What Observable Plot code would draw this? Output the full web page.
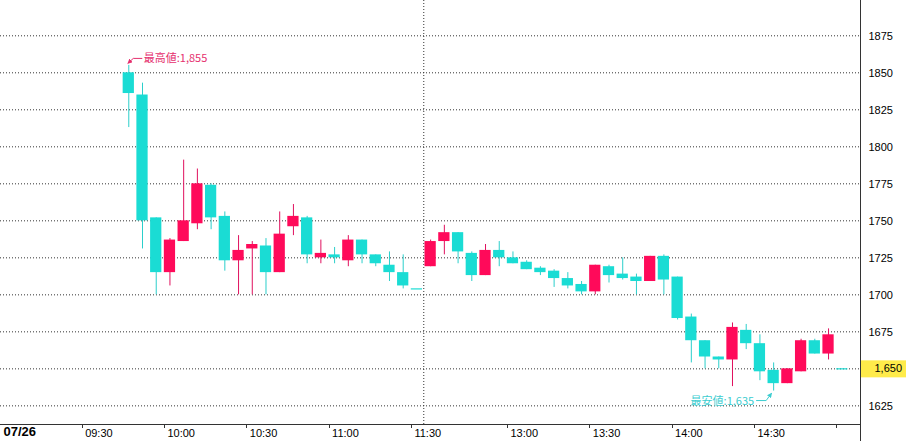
<!DOCTYPE html>
<html><head><meta charset="utf-8">
<script src="https://cdn.jsdelivr.net/npm/d3@7"></script>
<script src="https://cdn.jsdelivr.net/npm/@observablehq/plot@0.6"></script>
<style>
html,body{margin:0;padding:0;background:#fff;}
#chart{width:906px;height:441px;overflow:hidden;}
</style></head><body><div id="chart"></div>
<script>
// 5-minute slots counted from 09:00 (slot 0); 30 = 11:30 close, 31 = 12:30, 61 = 15:00 close
const slots = [9,10,11,12,13,14,15,16,17,18,19,20,21,22,23,24,25,26,27,28,29,30,
  31,32,33,34,35,36,37,38,39,40,41,42,43,44,45,46,47,48,49,50,51,52,53,54,55,56,57,58,59,60,61];
const open  = [1850,1835,1752,1715,1736,1748,1774,1753,1723,1731,1733,1715,1746,1752,1725,1727,1723,1737,1727,1720,1715,1704,
  1719,1736,1742,1728,1713,1730,1725,1722,1718,1716,1711,1707,1702,1719,1714,1712,1709,1726,1712,1685,1669,1658,1656,1676,1667,1649,1640,1648,1669,1660,1650];
const high  = [1855,1843,1752,1738,1791,1785,1775,1756,1740,1736,1738,1756,1761,1753,1737,1732,1740,1737,1727,1729,1727,1704,
  1737,1747,1742,1729,1734,1736,1729,1723,1719,1717,1715,1709,1720,1720,1725,1714,1726,1727,1712,1687,1669,1658,1681,1680,1673,1654,1650,1670,1670,1677,1650];
const low   = [1813,1731,1700,1706,1736,1744,1744,1716,1700,1700,1700,1715,1740,1721,1721,1721,1719,1721,1719,1709,1704,1704,
  1719,1727,1721,1709,1713,1719,1721,1717,1713,1705,1704,1700,1700,1708,1710,1700,1709,1700,1683,1654,1650,1650,1638,1663,1642,1635,1640,1648,1660,1656,1650];
const close = [1836,1750,1715,1737,1750,1775,1752,1723,1730,1734,1715,1741,1753,1727,1728,1725,1737,1727,1721,1715,1706,1704,
  1736,1742,1729,1713,1730,1725,1721,1717,1715,1711,1706,1702,1720,1713,1711,1709,1726,1710,1684,1669,1658,1656,1678,1667,1648,1640,1650,1669,1660,1673,1650];

const gridLevels = [1625,1650,1675,1700,1725,1750,1775,1800,1825,1850,1875];
const yTickLabels = [1625,1675,1700,1725,1750,1775,1800,1825,1850,1875];
const xTickSlots  = [6,12,18,24,30,37,43,49,55,61];
const xTickLabels = ["09:30","10:00","10:30","11:00","11:30","13:00","13:30","14:00","14:30",""];
const dateLabel = "07/26";
const sessionBreak = 30.5;
const lastPrice = 1650;

const UP = "#FF0A5A", DOWN = "#1ADCD4";
const UP_WICK = "#E0105E", DOWN_WICK = "#2BCFCB";
const HI_COLOR = "#E5306E", LO_COLOR = "#3CCDD0";

const candles = slots.map((k, i) => ({k, open: open[i], high: high[i], low: low[i], close: close[i]}));
const ups = candles.filter(d => d.close > d.open);
const downs = candles.filter(d => d.close <= d.open);
const dojis = candles.filter(d => d.close === d.open);
const hi = candles.reduce((a, b) => b.high > a.high ? b : a);
const lo = candles.reduce((a, b) => b.low < a.low ? b : a);
const fmt = d3.format(",");
const xTicks = xTickSlots.map((s, i) => ({s, label: xTickLabels[i]}));
const HW = 0.41, TICK_OFF = 0.4;

const num = "'Liberation Sans', Arial, sans-serif";
const jp = "'Noto Sans CJK JP', sans-serif";

const chart = Plot.plot({
  width: 906, height: 441,
  marginLeft: 0, marginRight: 46, marginTop: 0, marginBottom: 17,
  x: {type: "linear", domain: [-0.35, 62.33], axis: null},
  y: {type: "linear", domain: [1612.4, 1898.85], axis: null},
  style: {fontFamily: num, fontSize: "11px", background: "#fff", color: "#000"},
  marks: [
    Plot.ruleY(gridLevels, {stroke: "#333", strokeDasharray: "1,2", strokeWidth: 1}),
    Plot.ruleX([sessionBreak], {stroke: "#333", strokeDasharray: "1,2", strokeWidth: 1}),
    Plot.ruleX(ups, {x: "k", y1: "low", y2: "high", stroke: UP_WICK, strokeWidth: 1}),
    Plot.ruleX(downs, {x: "k", y1: "low", y2: "high", stroke: DOWN_WICK, strokeWidth: 1}),
    Plot.rect(ups, {x1: d => d.k - HW, x2: d => d.k + HW, y1: "open", y2: "close", fill: UP}),
    Plot.rect(downs, {x1: d => d.k - HW, x2: d => d.k + HW, y1: "open", y2: "close", fill: DOWN}),
    Plot.ruleY(dojis, {y: "close", x1: d => d.k - HW, x2: d => d.k + HW, stroke: DOWN, strokeWidth: 1.2}),
    Plot.text(yTickLabels, {y: d => d, text: d => String(d), frameAnchor: "right", dx: 8, dy: 1, textAnchor: "start", fill: "#000"}),
    Plot.text(xTicks, {x: d => d.s - TICK_OFF, text: "label", frameAnchor: "bottom", dy: 12, dx: 3, textAnchor: "start", fill: "#000"}),
    Plot.text([dateLabel], {text: d => d, frameAnchor: "bottom-left", dy: 11.5, dx: 3, textAnchor: "start", fontWeight: "bold", fontSize: 13, fill: "#000"}),
    Plot.text([hi], {x: "k", y: "high", text: d => "最高値:" + fmt(d.high), dx: 15, dy: -6.5, textAnchor: "start", fill: HI_COLOR, fontFamily: jp, fontSize: 11}),
    Plot.text([lo], {x: "k", y: "low", text: d => "最安値:" + fmt(d.low), dx: -19.5, dy: 10.5, textAnchor: "end", fill: LO_COLOR, fontFamily: jp, fontSize: 11})
  ]
});
document.getElementById("chart").appendChild(chart);

// decorations positioned through Plot's own scales
const svg = d3.select(chart);
const X = chart.scale("x"), Y = chart.scale("y");
const right = 906 - 46, bottom = 441 - 17;
const defs = svg.append("defs");
function marker(id, color) {
  defs.append("marker").attr("id", id).attr("viewBox", "0 0 10 10").attr("refX", 9).attr("refY", 5)
    .attr("markerWidth", 5).attr("markerHeight", 5).attr("orient", "auto")
    .append("path").attr("d", "M0,0L10,5L0,10z").attr("fill", color);
}
marker("mhi", HI_COLOR); marker("mlo", LO_COLOR);

svg.append("line").attr("x1", 0).attr("x2", right).attr("y1", bottom + 0.5).attr("y2", bottom + 0.5).attr("stroke", "#333");
svg.append("line").attr("x1", right + 0.5).attr("x2", right + 0.5).attr("y1", 0).attr("y2", 441).attr("stroke", "#333");
for (const t of xTicks) {
  const x = Math.round(X.apply(t.s - TICK_OFF)) + 0.5;
  svg.append("line").attr("x1", x).attr("x2", x).attr("y1", bottom).attr("y2", bottom + 4).attr("stroke", "#333");
}
// high arrow
{
  const px = X.apply(hi.k), py = Y.apply(hi.high);
  svg.append("path").attr("d", `M${px + 14},${py - 6.5}H${px + 5}L${px - 0.5},${py - 1.5}`)
    .attr("fill", "none").attr("stroke", HI_COLOR).attr("stroke-width", 1).attr("marker-end", "url(#mhi)");
}
// low arrow
{
  const px = X.apply(lo.k), py = Y.apply(lo.low);
  svg.append("path").attr("d", `M${px - 17},${py + 10}H${px - 7}L${px - 1.5},${py + 2.5}`)
    .attr("fill", "none").attr("stroke", LO_COLOR).attr("stroke-width", 1).attr("marker-end", "url(#mlo)");
}
// last price box
{
  const py = Y.apply(lastPrice);
  svg.append("rect").attr("x", right + 1).attr("y", py - 8).attr("width", 906 - right - 1).attr("height", 17).attr("fill", "#FFEB4A");
  svg.append("text").attr("x", 902).attr("y", py + 1).attr("text-anchor", "end").attr("dominant-baseline", "middle")
    .attr("font-family", num).attr("font-size", 11).attr("fill", "#000").text(fmt(lastPrice));
}
</script></body></html>
